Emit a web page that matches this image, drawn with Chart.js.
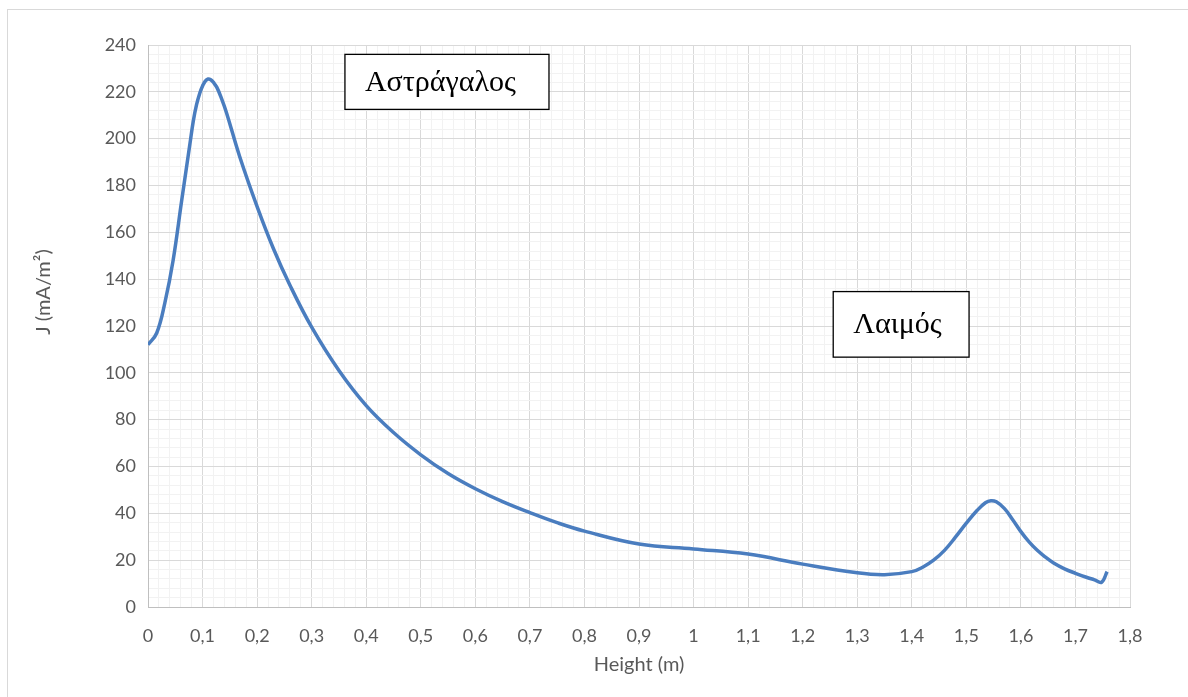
<!DOCTYPE html>
<html>
<head>
<meta charset="utf-8">
<script src="https://cdn.jsdelivr.net/npm/chart.js@4"></script>
<style>
  html, body { margin: 0; padding: 0; background: #fff; overflow: hidden; }
  #frame { position: absolute; left: 7px; top: 9px; width: 1300px; height: 800px; border: 1px solid #d9d9d9; }
  #wrap { position: absolute; left: 0; top: 0; width: 1188px; height: 697px; }
</style>
</head>
<body>
<div id="frame"></div>
<div id="wrap"><canvas id="c" width="1188" height="697"></canvas></div>
<script>
// ---------- data ----------
const heights = [0, 0.016, 0.031, 0.046, 0.062, 0.077, 0.083, 0.089, 0.095, 0.1, 0.105,
  0.11, 0.115, 0.12, 0.126, 0.135, 0.144, 0.168,
  0.2, 0.23, 0.26, 0.3, 0.35, 0.4, 0.45, 0.5, 0.55, 0.6, 0.65, 0.7, 0.75, 0.8, 0.9,
  1.0, 1.1, 1.2, 1.3, 1.35, 1.4, 1.42, 1.44, 1.46, 1.48, 1.5, 1.52, 1.535, 1.545,
  1.555, 1.57, 1.585, 1.6, 1.615, 1.63, 1.645, 1.66, 1.68, 1.7, 1.72, 1.735, 1.748, 1.758];
const currentJ = [112, 117, 130, 148, 174, 198, 207.5, 214.5, 219.5, 222.5, 224.6,
  225.5, 225.2, 224, 222, 217, 211, 192.4,
  171, 153, 137.5, 119.5, 101, 86, 74.5, 65, 57, 50.5, 45, 40.3, 36, 32.4, 26.9,
  24.8, 22.6, 18.3, 14.6, 13.8, 15.1, 17, 20, 24.2, 29.8, 35.8, 41.3, 44.5, 45.4,
  44.9, 42, 37.3, 32.2, 27.8, 24.2, 21.3, 18.8, 16.3, 14.4, 12.7, 11.6, 10.6, 15.1];

// text boxes: label + corners in data units
const boxLabels = ['Αστράγαλος', 'Λαιμός'];
const boxX = [[0.361, 0.735], [1.256, 1.505]];
const boxY = [[236, 212.5], [134.7, 106.7]];

const xMin = 0, xMax = 1.8, xStep = 0.02;
const yMin = 0, yMax = 240, yStep = 4;

const tickFont = { family: 'Lato', size: 18 };
const titleFont = { family: 'Lato', size: 20 };
const MAJOR = '#d9d9d9', MINOR = '#f2f2f2';

function fmt(v) {
  return String(Math.round(v * 10) / 10).replace('.', ',');
}
const isMajorX = v => Math.round(v * 50) % 5 === 0;
const isMajorY = v => Math.round(v) % 20 === 0;

// text boxes + y title
const extras = {
  id: 'extras',
  afterDraw(chart) {
    const { ctx, scales: { x, y } } = chart;
    ctx.save();
    boxLabels.forEach((txt, i) => {
      const l = x.getPixelForValue(boxX[i][0]), r = x.getPixelForValue(boxX[i][1]);
      const t = y.getPixelForValue(boxY[i][0]), b = y.getPixelForValue(boxY[i][1]);
      ctx.fillStyle = '#fff';
      ctx.fillRect(l, t, r - l, b - t);
      ctx.strokeStyle = '#000';
      ctx.lineWidth = 1.3;
      ctx.strokeRect(l, t, r - l, b - t);
      ctx.fillStyle = '#000';
      ctx.font = '30px "Liberation Serif"';
      ctx.textBaseline = 'alphabetic';
      ctx.textAlign = 'left';
      ctx.fillText(txt, l + 20, (t + b) / 2 + 9);
    });
    // rotated y axis title
    ctx.translate(44, 292);
    ctx.rotate(-Math.PI / 2);
    ctx.fillStyle = '#595959';
    ctx.font = '20px Lato';
    ctx.textAlign = 'center';
    ctx.textBaseline = 'middle';
    ctx.fillText('J (mA/m²)', 0, 0);
    ctx.restore();
  }
};

new Chart(document.getElementById('c'), {
  type: 'scatter',
  data: {
    datasets: [{
      data: heights.map((h, i) => ({ x: h, y: currentJ[i] })),
      showLine: true,
      borderColor: '#4a7dbf',
      borderWidth: 3.5,
      pointRadius: 0,
      tension: 0.4
    }]
  },
  options: {
    responsive: false,
    animation: false,
    layout: { padding: { left: 0, right: 58, top: 45, bottom: 16 } },
    plugins: { legend: { display: false }, tooltip: { enabled: false } },
    scales: {
      x: {
        type: 'linear',
        min: xMin, max: xMax,
        afterFit: s => { s.height = 74; },
        grid: {
          drawTicks: false,
          color: c => isMajorX(c.tick.value) ? MAJOR : MINOR,
          lineWidth: 1
        },
        border: { color: '#bfbfbf', width: 1 },
        ticks: {
          stepSize: xStep,
          autoSkip: false,
          maxRotation: 0,
          padding: 18,
          color: '#595959',
          font: tickFont,
          callback: v => isMajorX(v) ? fmt(v) : ''
        },
        title: {
          display: true,
          text: 'Height (m)',
          color: '#595959',
          font: titleFont
        }
      },
      y: {
        min: yMin, max: yMax,
        afterFit: s => { s.width = 148; },
        grid: {
          drawTicks: false,
          color: c => isMajorY(c.tick.value) ? MAJOR : MINOR,
          lineWidth: 1
        },
        border: { color: '#bfbfbf', width: 1 },
        ticks: {
          stepSize: yStep,
          autoSkip: false,
          padding: 12,
          color: '#595959',
          font: tickFont,
          callback: v => isMajorY(v) ? String(v) : ''
        }
      }
    }
  },
  plugins: [extras]
});
</script>
</body>
</html>
